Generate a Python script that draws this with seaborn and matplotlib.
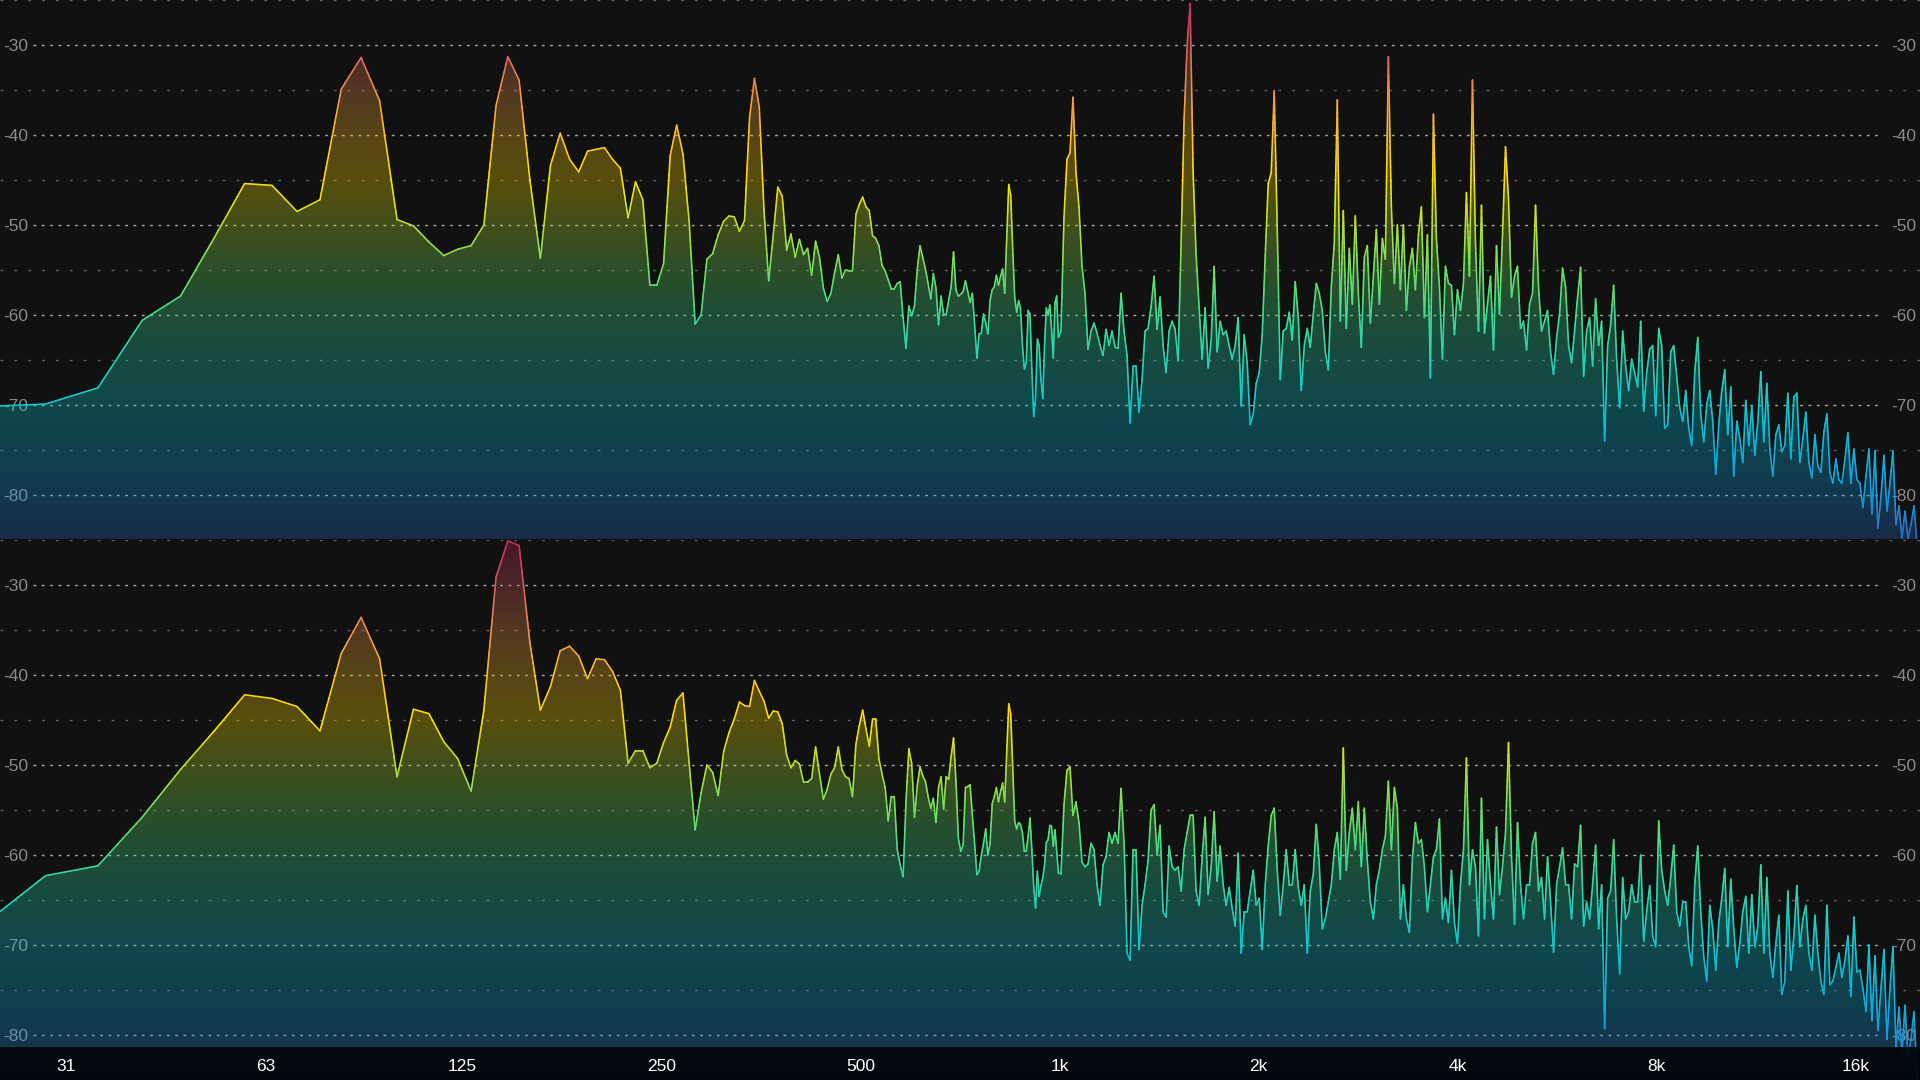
import numpy as np
import pandas as pd
import matplotlib
matplotlib.use("Agg")
import matplotlib.pyplot as plt
import seaborn as sns
from matplotlib.collections import LineCollection
from matplotlib.colors import LinearSegmentedColormap, Normalize
from matplotlib.patches import Polygon

# FFT bins (48 kHz / 8192) up to 1 kHz, one reading per bin, starting at bin 4
BIN_WIDTH = 5.859
FIRST_BIN = 4

left_low_db = [
    -70.2, -69.9, -68.1, -60.6, -57.9, -51.4, -45.4, -45.6, -48.5, -47.2, -34.9, -31.4, -36.2, -49.4,
    -50.1, -51.9, -53.4, -52.7, -52.3, -50.0, -36.7, -31.3, -33.9, -45.0, -53.7, -43.4, -39.8, -42.7,
    -44.1, -41.8, -41.6, -41.4, -42.7, -43.7, -49.2, -45.2, -47.2, -56.7, -56.7, -54.3, -42.3, -38.9,
    -42.1, -49.6, -61.0, -60.0, -53.8, -53.2, -51.1, -49.6, -49.0, -49.1, -50.7, -49.5, -38.1, -33.7,
    -36.9, -48.4, -56.2, -51.1, -45.8, -46.8, -52.8, -51.0, -53.6, -51.6, -53.3, -52.6, -55.6, -51.8,
    -53.6, -57.0, -58.5, -57.6, -55.3, -53.3, -55.9, -55.0, -55.1, -55.1, -48.8, -47.7, -46.9, -48.0,
    -48.4, -51.2, -51.5, -52.3, -54.5, -55.1, -56.1, -57.1, -57.1, -56.5, -56.3, -60.3, -63.7, -59.0,
    -60.1, -59.0, -54.9, -52.3, -53.6, -54.9, -56.5, -58.2, -55.4, -57.0, -61.1, -57.9, -59.9, -60.0,
    -58.4, -56.9, -53.0, -57.2, -57.9, -57.7, -57.4, -56.2, -57.4, -58.6, -57.6, -61.1, -64.8, -62.1,
    -62.0, -59.9, -60.9, -62.1, -58.4, -57.2, -56.9, -55.6, -56.7, -55.7, -54.9, -57.6, -51.5, -45.5,
    -46.7, -52.6, -58.0, -59.7, -58.4, -59.3, -63.4, -66.0, -65.3, -59.5, -59.9, -66.1, -71.3, -69.1,
    -62.7, -63.4, -67.2, -69.3, -63.4, -59.2, -60.0, -58.9, -61.5, -64.8, -58.6, -57.9, -62.5,
]

right_low_db = [
    -67.9, -62.3, -61.2, -55.8, -50.5, -46.2, -42.2, -42.6, -43.5, -46.2, -37.6, -33.6, -38.2, -51.3,
    -43.8, -44.3, -47.4, -49.3, -52.9, -43.9, -29.1, -25.1, -25.6, -36.4, -43.9, -41.3, -37.3, -36.8,
    -37.9, -40.4, -38.2, -38.3, -39.6, -41.7, -49.8, -48.4, -48.4, -50.3, -49.8, -47.5, -45.8, -42.8,
    -42.0, -49.8, -57.2, -53.1, -50.0, -50.8, -53.4, -48.5, -46.4, -44.9, -43.0, -43.4, -43.5, -40.6,
    -41.8, -42.9, -44.8, -44.0, -44.1, -45.4, -48.9, -50.3, -49.5, -49.9, -51.9, -51.9, -51.5, -48.0,
    -51.0, -53.8, -52.7, -51.0, -50.3, -48.0, -50.5, -51.3, -51.5, -53.5, -47.7, -45.6, -43.9, -46.0,
    -47.9, -44.9, -44.9, -49.3, -51.0, -52.5, -56.2, -53.5, -53.5, -59.4, -61.1, -62.4, -54.1, -48.2,
    -49.8, -55.8, -52.3, -50.2, -51.2, -51.8, -53.5, -54.8, -53.7, -56.4, -52.5, -51.3, -54.9, -51.3,
    -51.6, -49.1, -47.0, -51.8, -58.1, -59.6, -58.9, -52.5, -52.4, -52.2, -55.6, -58.7, -62.2, -61.8,
    -60.0, -58.7, -57.1, -60.0, -58.7, -54.3, -53.5, -52.5, -54.1, -52.9, -52.0, -54.1, -48.7, -43.2,
    -44.3, -50.2, -56.2, -57.1, -56.4, -56.6, -57.5, -59.6, -59.6, -57.9, -55.9, -59.4, -63.6, -65.9,
    -61.8, -64.6, -63.4, -62.5, -61.1, -58.6, -58.3, -56.7, -56.8, -59.0, -57.2, -59.6, -62.0,
]

# above 1 kHz the analyzer shows one reading per display band, 1005 Hz to 20 kHz
HIGH_START = 1005
HIGH_END = 20000

left_high_db = [
    -61.8, -49.2, -42.7, -42.0, -35.8, -44.2, -48.0, -54.6, -57.6, -63.8, -61.8, -60.9, -62.0, -63.4,
    -64.5, -61.6, -63.4, -61.8, -63.6, -63.7, -57.6, -61.8, -64.5, -72.0, -65.7, -65.7, -70.8, -67.2,
    -61.8, -61.5, -59.1, -55.7, -61.6, -58.0, -63.4, -66.4, -61.8, -60.7, -61.6, -65.1, -51.9, -38.1,
    -30.0, -25.4, -44.2, -53.4, -59.2, -64.9, -59.2, -65.9, -62.8, -54.6, -64.1, -60.7, -62.2, -61.8,
    -63.4, -64.9, -63.4, -60.3, -70.1, -62.2, -65.3, -72.2, -71.0, -67.6, -66.4, -62.2, -53.4, -45.4,
    -44.2, -35.1, -50.3, -67.2,
    -61.8, -61.5, -59.7, -62.8, -56.3, -60.3, -68.4, -63.4, -61.5, -63.6, -59.9, -56.5, -57.6, -59.5,
    -64.1, -66.1, -56.9, -51.9, -36.1, -60.7, -48.4, -61.5, -52.6, -58.8, -49.0, -57.6, -63.6, -53.6,
    -52.3, -60.9, -55.7, -50.5, -58.8, -51.5, -53.8, -31.3, -48.0, -56.5, -50.0, -57.2, -50.0, -59.5,
    -54.6, -52.6, -57.2, -51.1, -48.0, -60.3, -51.1, -67.0, -37.7, -51.5, -56.9, -64.9, -54.6, -56.5,
    -56.7, -62.2, -57.2, -59.5, -56.5, -46.4, -55.7, -33.9, -51.9, -61.8, -47.8, -62.0, -58.8, -55.7,
    -63.9, -52.3, -59.9, -51.1, -41.3, -47.1, -58.0, -55.7, -54.6, -61.5, -60.7, -63.9, -58.8, -57.6,
    -47.8, -56.9, -61.8, -60.7, -59.5, -64.1, -66.6, -62.6, -59.9, -54.8, -56.9, -63.4, -65.3, -61.8,
    -58.0, -54.7, -66.8, -61.8, -60.3, -65.7, -58.2, -63.4, -60.7, -74.0, -63.4, -61.1, -56.7, -64.9,
    -70.3, -61.8, -65.7, -68.4, -64.9, -66.4, -68.0, -60.7, -70.7, -66.4, -63.8, -63.4, -71.2, -61.5,
    -63.4, -72.6, -72.2, -64.1, -63.4, -66.8, -70.3, -71.8, -68.4, -72.6, -74.5, -66.4, -62.5, -71.0,
    -74.1, -69.9, -68.4, -71.8, -77.7, -72.2, -68.4, -66.1, -73.3, -68.0, -77.9, -71.8, -73.7, -76.4,
    -69.5, -74.5, -70.1, -75.6, -71.8, -66.3, -74.1, -67.6, -74.9, -77.9, -73.3, -72.2, -75.2, -74.5,
    -68.7, -76.0, -69.1, -68.7, -76.4, -73.7, -70.8, -76.4, -78.1, -73.3, -76.8, -77.5, -73.0, -71.0,
    -77.5, -78.7, -76.0, -78.3, -78.7, -76.0, -73.1, -78.7, -74.9, -78.3, -78.7, -81.4, -77.9, -74.9,
    -82.1, -75.1, -83.7, -80.2, -75.6, -81.8, -78.7, -75.1, -83.3, -81.2, -84.8, -81.8, -84.8, -83.3,
    -81.2, -85.4, -86.0,
]

right_high_db = [
    -62.1, -54.4, -50.6, -50.2, -55.6, -54.1, -56.4, -60.8, -61.3, -61.0, -58.7, -59.4, -63.3, -65.6,
    -61.1, -60.2, -57.5, -58.7, -57.5, -58.7, -52.6, -58.6, -70.9, -71.7, -59.4, -59.4, -70.5, -65.6,
    -63.3, -60.6, -55.0, -54.4, -60.0, -56.7, -66.3, -66.9, -59.0, -61.3, -61.7, -61.3, -64.0, -59.4,
    -57.5, -55.6, -55.6, -64.0, -65.6, -60.2, -55.8, -64.4, -61.3, -55.2, -62.9, -59.0, -63.3, -65.6,
    -63.6, -65.9, -67.9, -59.8, -70.9, -66.3, -66.3, -64.0, -61.7, -65.6, -64.8, -70.5, -63.3, -59.0,
    -55.6, -54.8, -61.7, -66.7,
    -63.3, -59.4, -63.3, -63.3, -59.4, -63.6, -65.6, -63.3, -70.9, -64.0, -62.1, -56.6, -61.1, -68.2,
    -67.1, -65.2, -63.3, -59.4, -57.5, -62.7, -48.1, -61.7, -57.5, -54.8, -59.4, -54.1, -61.3, -54.8,
    -60.6, -65.2, -67.1, -63.3, -61.7, -59.4, -57.9, -51.8, -59.4, -52.5, -54.8, -67.1, -63.3, -67.1,
    -68.6, -60.4, -56.4, -58.7, -58.3, -61.3, -66.3, -63.3, -60.2, -59.4, -56.0, -67.1, -64.8, -67.5,
    -61.7, -67.5, -69.8, -63.3, -59.4, -49.2, -63.3, -59.4, -61.3, -69.0, -53.7, -67.1, -58.3, -63.3,
    -67.1, -56.9, -64.4, -61.3, -57.5, -47.5, -60.2, -67.7, -56.4, -63.3, -67.1, -63.3, -63.3, -58.7,
    -57.5, -64.0, -62.5, -67.1, -60.2, -65.2, -70.8, -63.3, -61.3, -59.2, -63.3, -63.3, -67.1, -61.0,
    -61.3, -56.7, -67.9, -65.2, -67.1, -63.3, -58.9, -68.2, -63.3, -79.3, -64.8, -64.0, -58.3, -67.1,
    -73.2, -62.5, -67.1, -66.3, -63.3, -65.2, -65.2, -60.0, -69.6, -66.3, -63.4, -69.0, -70.2, -56.2,
    -61.7, -64.0, -65.6, -62.5, -58.9, -66.3, -67.9, -65.2, -65.2, -70.2, -72.3, -63.3, -59.0, -66.3,
    -71.3, -74.0, -65.6, -68.2, -72.8, -67.5, -64.8, -61.5, -70.2, -62.7, -68.2, -72.5, -69.8, -66.3,
    -64.6, -70.9, -64.4, -70.2, -67.9, -61.1, -70.9, -62.5, -70.9, -73.6, -69.8, -66.7, -75.5, -74.0,
    -64.0, -72.8, -69.0, -63.4, -70.2, -67.1, -65.6, -70.9, -72.8, -66.7, -70.9, -74.0, -75.5, -65.6,
    -74.4, -74.0, -72.5, -70.9, -73.6, -71.7, -69.0, -75.7, -66.9, -73.0, -72.8, -74.8, -77.4, -70.0,
    -78.4, -71.2, -79.5, -74.8, -70.5, -80.5, -74.8, -70.2, -81.3, -76.9, -82.0, -76.7, -82.4, -80.5,
    -77.4, -84.7, -85.1,
]

major_db = [-30, -40, -50, -60, -70, -80]
minor_db = [-25, -35, -45, -55, -65, -75]
x_tick_freqs = [31.5, 63, 125, 250, 500, 1000, 2000, 4000, 8000, 16000]
x_tick_labels = ["31", "63", "125", "250", "500", "1k", "2k", "4k", "8k", "16k"]

BG = "#111111"

# level -> colour, red at the top through yellow and green to blue at the bottom
level_stops = [-85, -80, -75, -70, -65, -60, -55, -50, -45, -40, -35, -30, -25]
level_colors = ["#2a68c8", "#1898e0", "#08b4dc", "#0fc8d2", "#25d4b4", "#3fdc90", "#6ee060",
                "#b8e030", "#ffe000", "#ffc020", "#f0904a", "#d55a5f", "#c62a5a"]
norm = Normalize(-85, -25)
cmap = LinearSegmentedColormap.from_list(
    "levels", [((s + 85) / 60, c) for s, c in zip(level_stops, level_colors)]
)

sns.set_theme(style="dark", rc={"axes.facecolor": BG, "figure.facecolor": BG})
plt.rcParams["font.family"] = ["Liberation Sans", "DejaVu Sans"]

fig = plt.figure(figsize=(19.2, 10.8), dpi=100)
ax_top = fig.add_axes([0, 541 / 1080, 1, 539 / 1080])
ax_bot = fig.add_axes([0, 0, 1, 540 / 1080])


def draw_channel(ax, low_db, high_db, ymin):
    low_freq = (FIRST_BIN + np.arange(len(low_db))) * BIN_WIDTH
    high_freq = np.geomspace(HIGH_START, HIGH_END, len(high_db))
    df = pd.DataFrame({
        "freq": np.concatenate([low_freq, high_freq]),
        "db": np.array(low_db + high_db),
    })

    sns.lineplot(data=df, x="freq", y="db", ax=ax, estimator=None, sort=False,
                 color="#3fdc90", lw=0.4, zorder=2)
    ax.set_xscale("log", base=2)
    ax.set_xlim(25, 20000)

    # filled area: vertical gradient clipped to the area under the line
    gradient = np.linspace(-25, ymin, 256).reshape(-1, 1)
    im = ax.imshow(gradient, extent=[0, 1, ymin, -25], cmap=cmap, norm=norm, alpha=0.3,
                   aspect="auto", transform=ax.get_yaxis_transform(), zorder=1,
                   interpolation="bilinear")
    verts = np.column_stack([df["freq"], df["db"]])
    verts = np.vstack([verts, [df["freq"].iloc[-1], ymin - 5], [df["freq"].iloc[0], ymin - 5]])
    clip = Polygon(verts, closed=True, transform=ax.transData)
    im.set_clip_path(clip)

    # line coloured by level, segments cut in small steps so spikes change colour along the way
    lx = np.log2(df["freq"].values)
    ly = df["db"].values
    segs = []
    seg_levels = []
    for i in range(len(lx) - 1):
        n = max(1, int(abs(ly[i + 1] - ly[i]) / 0.7))
        tx = np.linspace(lx[i], lx[i + 1], n + 1)
        ty = np.linspace(ly[i], ly[i + 1], n + 1)
        for j in range(n):
            segs.append([(2 ** tx[j], ty[j]), (2 ** tx[j + 1], ty[j + 1])])
            seg_levels.append((ty[j] + ty[j + 1]) / 2)
    lc = LineCollection(segs, cmap=cmap, norm=norm, linewidths=1.15, zorder=3, capstyle="round")
    lc.set_array(np.array(seg_levels))
    ax.add_collection(lc)

    ax.set_ylim(ymin, -25)
    ax.set_xlim(25, 20000)

    # dotted level lines stay under the fill
    gt = ax.get_yaxis_transform()
    ax.hlines(major_db, 33 / 1920, 1883 / 1920, transform=gt, colors="#a8a8a8", lw=1.0,
              linestyles=[(0, (2.0, 4.0))], zorder=0.6)
    ax.hlines(minor_db, 0, 1, transform=gt, colors="#5e5e5e", lw=1.0,
              linestyles=[(0, (2.0, 8.0))], zorder=0.6)

    ax.grid(False)
    for s in ax.spines.values():
        s.set_visible(False)
    ax.set_xlabel("")
    ax.set_ylabel("")
    ax.set_yticks(major_db)
    ax.set_yticklabels([str(v) for v in major_db])
    ax.tick_params(axis="y", which="both", length=0, left=False, right=False, labelleft=True,
                   labelright=True, labelcolor="#8a8a8a", labelsize=12.5, pad=-20.5)
    ax.yaxis.set_zorder(0.5)


draw_channel(ax_top, left_low_db, left_high_db, -84.9)
draw_channel(ax_bot, right_low_db, right_high_db, -85)

ax_top.set_xticks([])
ax_top.minorticks_off()
ax_top.tick_params(axis="x", which="both", bottom=False, labelbottom=False)

# frequency band along the bottom, it sits over the curve
ax_bot.axhspan(-85, -81.33, color="#02060b", alpha=0.93, lw=0, zorder=5)
ax_bot.set_xticks(x_tick_freqs)
ax_bot.set_xticklabels(x_tick_labels)
ax_bot.minorticks_off()
ax_bot.tick_params(axis="x", which="both", length=0, pad=-10, labelcolor="white", labelsize=12.5)
ax_bot.xaxis.set_zorder(6)
for lab in ax_bot.get_xticklabels():
    lab.set_verticalalignment("center")

fig.savefig("out.png", dpi=100, facecolor=BG)
